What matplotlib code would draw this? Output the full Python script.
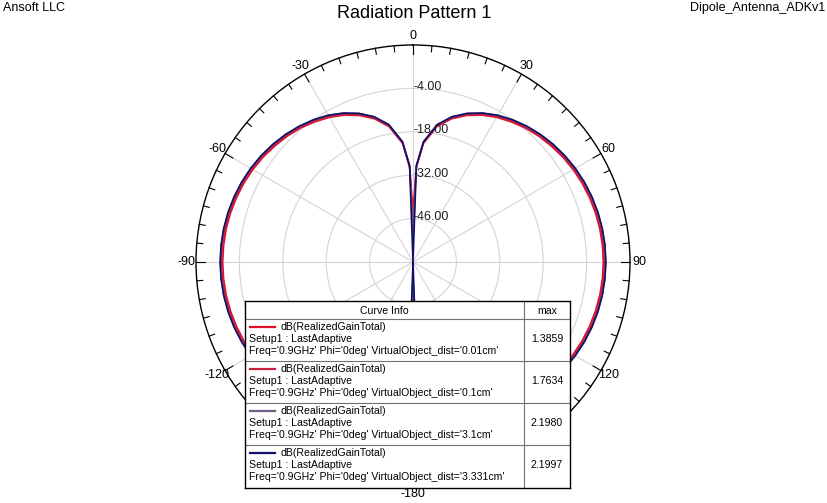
import matplotlib.pyplot as plt
import numpy as np

plt.rcParams['font.family'] = ['Liberation Sans', 'DejaVu Sans']

# theta (deg) for the Phi=0 cut
theta_deg = [-180, -178, -175, -170, -165, -160, -155, -150, -145, -140, -135, -130, -125,
             -120, -115, -110, -105, -100, -95, -90, -85, -80, -75, -70, -65, -60, -55,
             -50, -45, -40, -35, -30, -25, -20, -15, -10, -5, -2,
             0, 2, 5, 10, 15, 20, 25, 30, 35, 40, 45, 50, 55, 60, 65, 70, 75, 80, 85,
             90, 95, 100, 105, 110, 115, 120, 125, 130, 135, 140, 145, 150, 155, 160,
             165, 170, 175, 178, 180]

# realized gain total (dB)
gain_001 = [-47,
            -29.5, -21.6, -15.7, -12.2, -9.7, -7.7, -6.1, -4.8, -3.6, -2.6, -1.8, -1.0,
            -0.35, 0.18, 0.6, 0.95, 1.2, 1.34, 1.386, 1.34, 1.2, 0.95, 0.6, 0.18, -0.35,
            -1.0, -1.8, -2.6, -3.6, -4.8, -6.1, -7.7, -9.7, -12.2, -15.7, -21.6, -29.5,
            -44,
            -29.5, -21.6, -15.7, -12.2, -9.7, -7.7, -6.1, -4.8, -3.6, -2.6, -1.8, -1.0,
            -0.35, 0.18, 0.6, 0.95, 1.2, 1.34, 1.386, 1.34, 1.2, 0.95, 0.6, 0.18, -0.35,
            -1.0, -1.8, -2.6, -3.6, -4.8, -6.1, -7.7, -9.7, -12.2, -15.7, -21.6, -29.5,
            -47]
gain_01 = [-50,
           -29.3, -21.4, -15.4, -11.9, -9.4, -7.4, -5.8, -4.4, -3.3, -2.3, -1.4, -0.65,
           0.0, 0.54, 0.98, 1.32, 1.56, 1.71, 1.763, 1.71, 1.56, 1.32, 0.98, 0.54, 0.0,
           -0.65, -1.4, -2.3, -3.3, -4.4, -5.8, -7.4, -9.4, -11.9, -15.4, -21.4, -29.3,
           -48,
           -29.3, -21.4, -15.4, -11.9, -9.4, -7.4, -5.8, -4.4, -3.3, -2.3, -1.4, -0.65,
           0.0, 0.54, 0.98, 1.32, 1.56, 1.71, 1.763, 1.71, 1.56, 1.32, 0.98, 0.54, 0.0,
           -0.65, -1.4, -2.3, -3.3, -4.4, -5.8, -7.4, -9.4, -11.9, -15.4, -21.4, -29.3,
           -50]
gain_31 = [-55,
           -28.8, -21.0, -15.0, -11.5, -9.0, -7.0, -5.36, -4.0, -2.86, -1.85, -0.98, -0.22,
           0.43, 0.97, 1.41, 1.75, 1.99, 2.14, 2.198, 2.14, 1.99, 1.75, 1.41, 0.97, 0.43,
           -0.22, -0.98, -1.85, -2.86, -4.0, -5.36, -7.0, -9.0, -11.5, -15.0, -21.0, -28.8,
           -52,
           -28.8, -21.0, -15.0, -11.5, -9.0, -7.0, -5.36, -4.0, -2.86, -1.85, -0.98, -0.22,
           0.43, 0.97, 1.41, 1.75, 1.99, 2.14, 2.198, 2.14, 1.99, 1.75, 1.41, 0.97, 0.43,
           -0.22, -0.98, -1.85, -2.86, -4.0, -5.36, -7.0, -9.0, -11.5, -15.0, -21.0, -28.8,
           -55]
gain_3331 = [-60,
             -29, -21.1, -15.0, -11.5, -9.0, -7.0, -5.35, -4.0, -2.85, -1.84, -0.97, -0.21,
             0.44, 0.98, 1.42, 1.76, 2.0, 2.15, 2.2, 2.15, 2.0, 1.76, 1.42, 0.98, 0.44,
             -0.21, -0.97, -1.84, -2.85, -4.0, -5.35, -7.0, -9.0, -11.5, -15.0, -21.1, -29,
             -60,
             -29, -21.1, -15.0, -11.5, -9.0, -7.0, -5.35, -4.0, -2.85, -1.84, -0.97, -0.21,
             0.44, 0.98, 1.42, 1.76, 2.0, 2.15, 2.2, 2.15, 2.0, 1.76, 1.42, 0.98, 0.44,
             -0.21, -0.97, -1.84, -2.85, -4.0, -5.35, -7.0, -9.0, -11.5, -15.0, -21.1, -29,
             -60]

dists = ['0.01cm', '0.1cm', '3.1cm', '3.331cm']
max_vals = ['1.3859', '1.7634', '2.1980', '2.1997']
colors = ['#e0102c', '#c8203c', '#6e5e80', '#10106a']
series = [gain_001, gain_01, gain_31, gain_3331]

r_ticks = [-46, -32, -18, -4]
theta_ticks = [0, 30, 60, 90, 120, 150, 180, 210, 240, 270, 300, 330]
# 150 / -150 sit under the curve info box, -180 is placed below it by hand
theta_labels = ['0', '30', '60', '90', '120', '', '', '', '-120', '-90', '-60', '-30']

W, H = 828, 503
fig = plt.figure(figsize=(W / 100, H / 100), dpi=100, facecolor='white')

# polar axes: centre (413, 262), radius 217 px
cx, cy, R = 413, 262, 217
ax = fig.add_axes([(cx - R) / W, (H - cy - R) / H, 2 * R / W, 2 * R / H], projection='polar')
ax.set_theta_zero_location('N')
ax.set_theta_direction(-1)
rmin, rmax = -60, 10
ax.set_ylim(rmin, rmax)

th = np.deg2rad(theta_deg)
for g, c in zip(series, colors):
    ax.plot(th, g, color=c, lw=1.2)

ax.set_yticks(r_ticks)
ax.set_yticklabels([])
for v in r_ticks:
    ax.annotate('%.2f' % v, xy=(0, v), xytext=(0, 1), textcoords='offset points',
                ha='left', va='center', fontsize=9, color='#202020')

ax.set_xticks(np.deg2rad(theta_ticks))
ax.set_xticklabels(theta_labels, fontsize=9)
ax.tick_params(axis='x', which='major', length=0, pad=-0.5)
ax.grid(True, color='#d4d4d4', lw=0.8)
ax.spines['polar'].set_color('black')
ax.spines['polar'].set_linewidth(1.0)

# inward tick marks on the outer ring every 5 deg
px = (rmax - rmin) / R
for a in range(0, 360, 5):
    L = 9 if a % 30 == 0 else 6
    ax.plot([np.deg2rad(a)] * 2, [rmax, rmax - L * px], color='black', lw=0.8, clip_on=False)
ax.set_ylim(rmin, rmax)

# header texts
fig.text(3 / W, 1 - 8 / H, 'Ansoft LLC', fontsize=9, ha='left', va='center')
fig.text(414 / W, 1 - 13 / H, 'Radiation Pattern 1', fontsize=13, ha='center', va='center')
fig.text(825 / W, 1 - 8 / H, 'Dipole_Antenna_ADKv1', fontsize=9, ha='right', va='center')

# curve info table
bx0, by0, bw, bh = 245, 301, 325, 187
tax = fig.add_axes([bx0 / W, (H - by0 - bh) / H, bw / W, bh / H])
tax.set_xlim(0, bw)
tax.set_ylim(bh, 0)
tax.set_xticks([])
tax.set_yticks([])
tax.set_facecolor('white')
for s in tax.spines.values():
    s.set_color('black')
    s.set_linewidth(1.0)

fig.text(cx / W, 1 - 494 / H, '-180', fontsize=9, ha='center', va='center')

fs = 7.6
col_x = 279
tax.axvline(col_x, color='#707070', lw=0.8)
tax.axhline(18, color='#707070', lw=0.8)
tax.text(col_x / 2, 9.5, 'Curve Info', ha='center', va='center', fontsize=fs)
tax.text((col_x + bw) / 2, 9.5, 'max', ha='center', va='center', fontsize=fs)

row_h = 42
for i, (d, m, c) in enumerate(zip(dists, max_vals, colors)):
    top = 18 + i * row_h
    if i > 0:
        tax.axhline(top, color='#707070', lw=0.8)
    tax.plot([5, 30], [top + 8, top + 8], color=c, lw=1.6)
    tax.text(36, top + 8, 'dB(RealizedGainTotal)', ha='left', va='center', fontsize=fs)
    tax.text(4, top + 20, 'Setup1 : LastAdaptive', ha='left', va='center', fontsize=fs)
    tax.text(4, top + 32, "Freq='0.9GHz' Phi='0deg' VirtualObject_dist='%s'" % d,
             ha='left', va='center', fontsize=fs)
    tax.text((col_x + bw) / 2, top + 20, m, ha='center', va='center', fontsize=fs)

fig.savefig('out.png', dpi=100, facecolor='white')
